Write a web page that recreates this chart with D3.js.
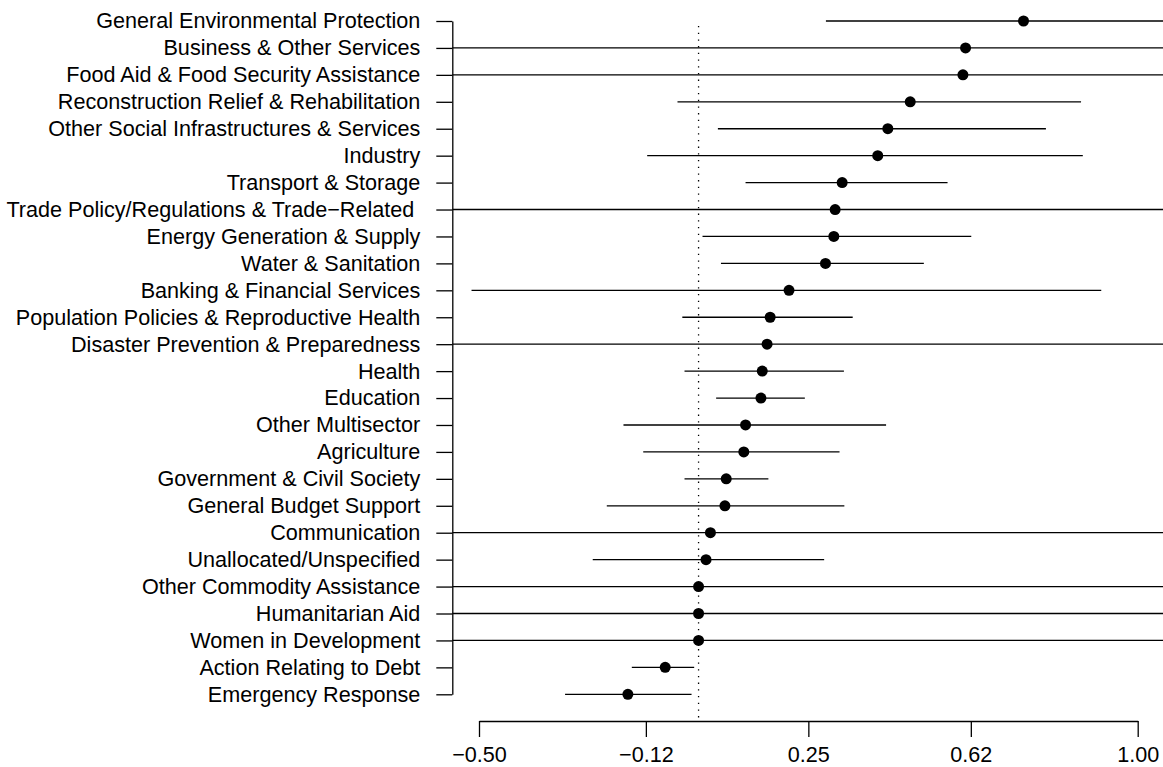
<!DOCTYPE html>
<html>
<head>
<meta charset="utf-8">
<script src="https://cdn.jsdelivr.net/npm/d3@7"></script>
<style>
  body { margin: 0; background: #fff; }
  svg text { font-family: "Liberation Sans", Arial, Helvetica, sans-serif; font-size: 21.6px; fill: #000; }
</style>
</head>
<body>
<svg id="chart" width="1163" height="767"></svg>
<script>
// sectors, top to bottom
const sectors = [
  'General Environmental Protection',
  'Business & Other Services',
  'Food Aid & Food Security Assistance',
  'Reconstruction Relief & Rehabilitation',
  'Other Social Infrastructures & Services',
  'Industry',
  'Transport & Storage',
  'Trade Policy/Regulations & Trade\u2212Related ',
  'Energy Generation & Supply',
  'Water & Sanitation',
  'Banking & Financial Services',
  'Population Policies & Reproductive Health',
  'Disaster Prevention & Preparedness',
  'Health',
  'Education',
  'Other Multisector',
  'Agriculture',
  'Government & Civil Society',
  'General Budget Support',
  'Communication',
  'Unallocated/Unspecified',
  'Other Commodity Assistance',
  'Humanitarian Aid',
  'Women in Development',
  'Action Relating to Debt',
  'Emergency Response'
];

// point estimates
const estimates = [0.740, 0.608, 0.602, 0.482, 0.431, 0.408, 0.327, 0.311, 0.308, 0.289,
  0.206, 0.163, 0.156, 0.145, 0.142, 0.107, 0.103, 0.063, 0.060, 0.027,
  0.017, 0.000, 0.000, 0.000, -0.076, -0.161];

// interval bounds (null = runs off the plot)
const lower = [0.290, null, null, -0.048, 0.044, -0.117, 0.107, null, 0.009, 0.051,
  -0.517, -0.037, null, -0.032, 0.040, -0.171, -0.126, -0.032, -0.209, null,
  -0.241, null, null, null, -0.152, -0.304];
const upper = [null, null, null, 0.871, 0.791, 0.875, 0.567, null, 0.621, 0.513,
  0.917, 0.351, null, 0.331, 0.242, 0.427, 0.321, 0.159, 0.332, null,
  0.286, null, null, null, -0.010, -0.016];

const xTicks = [-0.5, -0.12, 0.25, 0.62, 1.0];
const xTickLabels = ['\u22120.50', '\u22120.12', '0.25', '0.62', '1.00'];

const svg = d3.select('#chart');

const x = d3.scaleLinear().domain([-0.5, 1]).range([479, 1137.7]);
const y = d3.scalePoint().domain(sectors).range([21, 694.3]);

const plotLeft = 452.3, plotRight = 1163, plotBottom = 721;

svg.append('clipPath').attr('id', 'plotclip')
  .append('rect')
  .attr('x', plotLeft).attr('y', 0)
  .attr('width', plotRight - plotLeft).attr('height', plotBottom);

const rows = sectors.map((s, i) => ({
  name: s, est: estimates[i],
  lo: lower[i] === null ? x.invert(plotLeft) : lower[i],
  hi: upper[i] === null ? x.invert(plotRight) : upper[i]
}));

// zero reference line
svg.append('line')
  .attr('x1', x(0)).attr('x2', x(0))
  .attr('y1', 26).attr('y2', plotBottom)
  .attr('stroke', '#000')
  .attr('stroke-width', 1.3)
  .attr('stroke-dasharray', '1.3,5.4');

const g = svg.append('g').attr('clip-path', 'url(#plotclip)');

g.selectAll('line.ci')
  .data(rows)
  .join('line')
  .attr('class', 'ci')
  .attr('x1', d => x(d.lo))
  .attr('x2', d => x(d.hi))
  .attr('y1', d => y(d.name))
  .attr('y2', d => y(d.name))
  .attr('stroke', '#000')
  .attr('stroke-width', 1.3);

g.selectAll('circle.est')
  .data(rows)
  .join('circle')
  .attr('class', 'est')
  .attr('cx', d => x(d.est))
  .attr('cy', d => y(d.name))
  .attr('r', 5.5)
  .attr('fill', '#000');

// x axis
const xAxis = svg.append('g')
  .attr('transform', `translate(0,${plotBottom})`)
  .call(d3.axisBottom(x)
    .tickValues(xTicks)
    .tickFormat((d, i) => xTickLabels[i])
    .tickSize(16)
    .tickSizeOuter(0)
    .tickPadding(10));

// y axis
const yAxis = svg.append('g')
  .attr('transform', `translate(${plotLeft},0)`)
  .call(d3.axisLeft(y)
    .tickSize(16)
    .tickSizeOuter(0)
    .tickPadding(16));

[xAxis, yAxis].forEach(ax => {
  ax.attr('font-family', null).attr('font-size', null);
  ax.selectAll('path.domain, .tick line').attr('stroke', '#000').attr('stroke-width', 1.3);
});
yAxis.selectAll('text').style('white-space', 'pre');
</script>
</body>
</html>
